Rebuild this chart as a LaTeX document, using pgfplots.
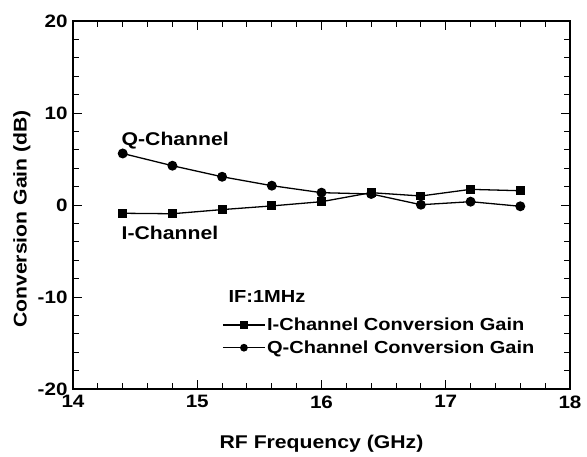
\documentclass[border=0pt]{standalone}
\usepackage{fontspec}
\setmainfont[FakeStretch=1.15]{Liberation Sans}
\usepackage{pgfplots}
\pgfplotsset{compat=1.18}
\begin{document}
\begin{tikzpicture}
\begin{axis}[
  name=ax,
  scale only axis,
  width=497bp, height=368bp,
  xmin=14, xmax=18, ymin=-20, ymax=20,
  xtick={14,15,16,17,18}, ytick={-20,-10,0,10,20},
  minor x tick num=4, minor y tick num=4,
  tick align=inside,
  major tick length=9bp, minor tick length=6bp,
  axis line style={line width=1.2pt},
  every tick/.style={line width=1pt, black},
  tick label style={font=\fontsize{18}{20}\selectfont\bfseries},
  /pgf/number format/assume math mode=true,
  xticklabel style={yshift=-3bp},
  yticklabel style={xshift=-2bp},
  xlabel={RF Frequency (GHz)},
  ylabel={Conversion Gain (dB)},
  label style={font=\fontsize{18.5}{21}\selectfont\bfseries},
  xlabel style={at={(axis description cs:0.5,-0.15)}, anchor=center},
  ylabel style={at={(axis description cs:-0.103,0.462)}, anchor=center},
  legend style={at={(axis cs:15.2,-12.1)}, anchor=north west, draw=none, fill=none,
    font=\fontsize{17.5}{20}\selectfont\bfseries, row sep=5.5bp, inner sep=0pt,
    nodes={inner sep=1.5bp}},
  legend cell align=left,
  legend image code/.code={\draw[mark repeat=2,mark phase=2] plot coordinates {(0bp,0bp) (21bp,0bp) (42bp,0bp)};},
  legend image post style={mark size=3.2bp},
]
\addplot[black, line width=1.3pt, mark=square*, mark size=3.8bp] coordinates {
 (14.4,-0.9) (14.8,-0.95) (15.2,-0.5) (15.6,-0.1) (16.0,0.36) (16.4,1.34) (16.8,0.98) (17.2,1.7) (17.6,1.55)};
\addlegendentry{I-Channel Conversion Gain}
\addplot[black, line width=1.3pt, mark=*, mark size=4.3bp] coordinates {
 (14.4,5.6) (14.8,4.27) (15.2,3.07) (15.6,2.1) (16.0,1.34) (16.4,1.2) (16.8,0.03) (17.2,0.36) (17.6,-0.14)};
\addlegendentry{Q-Channel Conversion Gain}
\node[anchor=base west, font=\fontsize{18.5}{20}\selectfont\bfseries, inner sep=0pt] at (axis cs:14.39,6.5) {Q-Channel};
\node[anchor=base west, font=\fontsize{18.5}{20}\selectfont\bfseries, inner sep=0pt] at (axis cs:14.39,-3.8) {I-Channel};
\node[anchor=base west, font=\fontsize{17.5}{20}\selectfont\bfseries, inner sep=0pt] at (axis cs:15.25,-10.65) {IF:1MHz};
\end{axis}
\path[use as bounding box] (ax.south west) ++(-73bp,-68bp) rectangle ++(587bp,457bp);
\end{tikzpicture}
\end{document}
